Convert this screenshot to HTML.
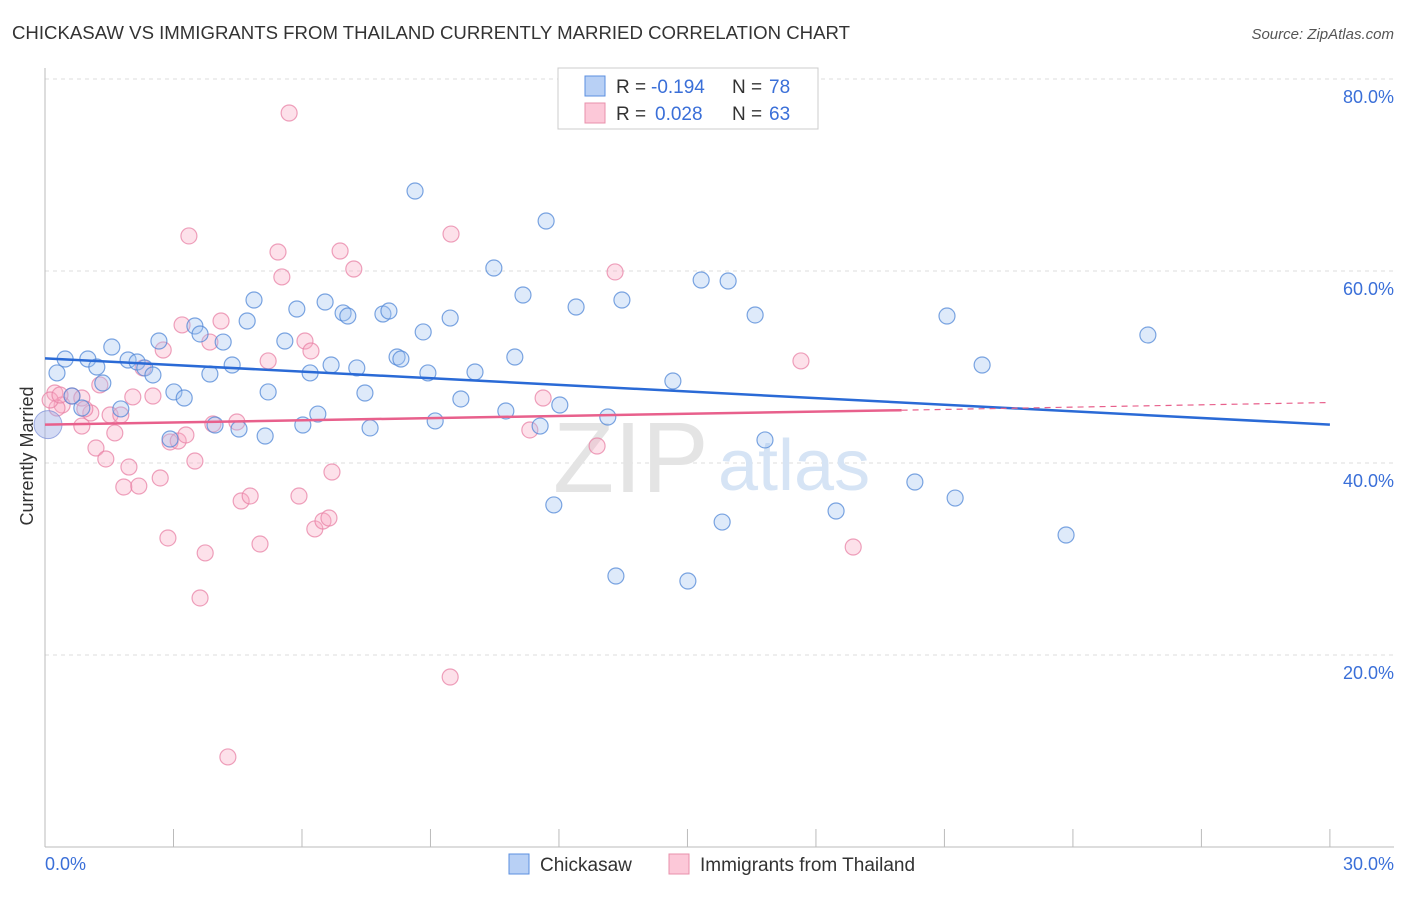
<!DOCTYPE html>
<html><head><meta charset="utf-8"><style>
body{margin:0;background:#fff;font-family:"Liberation Sans",sans-serif;}
svg text{font-family:"Liberation Sans",sans-serif;}
</style></head><body>
<svg id="chart" width="1406" height="892" viewBox="0 0 1406 892">
<text x="12" y="39" font-size="18" fill="#333" textLength="838" lengthAdjust="spacingAndGlyphs">CHICKASAW VS IMMIGRANTS FROM THAILAND CURRENTLY MARRIED CORRELATION CHART</text>
<text x="1394" y="39" font-size="15" fill="#555" font-style="italic" text-anchor="end">Source: ZipAtlas.com</text>
<g id="grid"></g>
<text x="553" y="492" font-size="100" fill="#e4e4e4" font-family="Liberation Serif">ZIP</text>
<text x="718" y="490" font-size="72" fill="#d6e4f5">atlas</text>
<g id="pts"></g>
<g id="lines"></g>
<text transform="translate(33,456) rotate(-90)" font-size="18" fill="#333" text-anchor="middle">Currently Married</text>
<text x="45" y="870" font-size="18" fill="#3a6fd8">0.0%</text>
<text x="1394" y="870" font-size="18" fill="#3a6fd8" text-anchor="end">30.0%</text>
<g>
<rect x="558" y="68" width="260" height="61" fill="#fff" stroke="#ccc"/>
<rect x="585" y="76" width="20" height="20" fill="#b8d0f5" stroke="#5b8fe0"/>
<rect x="585" y="103" width="20" height="20" fill="#fcc8d8" stroke="#e890ab"/>
<text x="616" y="93" font-size="19" fill="#333">R =</text>
<text x="651" y="93" font-size="19" fill="#3a6fd8">-0.194</text>
<text x="732" y="93" font-size="19" fill="#333">N =</text>
<text x="769" y="93" font-size="19" fill="#3a6fd8">78</text>
<text x="616" y="120" font-size="19" fill="#333">R =</text>
<text x="655" y="120" font-size="19" fill="#3a6fd8">0.028</text>
<text x="732" y="120" font-size="19" fill="#333">N =</text>
<text x="769" y="120" font-size="19" fill="#3a6fd8">63</text>
</g>
<g>
<rect x="509" y="854" width="20" height="20" fill="#b8d0f5" stroke="#5b8fe0"/>
<text x="540" y="871" font-size="19" fill="#333">Chickasaw</text>
<rect x="669" y="854" width="20" height="20" fill="#fcc8d8" stroke="#e890ab"/>
<text x="700" y="871" font-size="19" fill="#333">Immigrants from Thailand</text>
</g>
</svg>
<script>
const yTicks=[20,40,60,80];
const xTickCount=[0,3,6,9,12,15,18,21,24,27,30];
const bluePx=[[57,373],[65,359],[88,359],[97,367],[103,383],[112,347],[121,409],[128,360],[137,362],[145,368],[153,375],[159,341],[170,439],[174,392],[184,398],[195,326],[200,334],[210,374],[215,425],[223,342],[232,365],[239,429],[247,321],[254,300],[265,436],[268,392],[285,341],[297,309],[303,425],[310,373],[318,414],[325,302],[331,365],[343,313],[348,316],[357,368],[365,393],[370,428],[383,314],[389,311],[397,357],[401,359],[415,191],[423,332],[428,373],[435,421],[450,318],[461,399],[475,372],[494,268],[506,411],[515,357],[523,295],[540,426],[546,221],[554,505],[560,405],[576,307],[608,417],[616,576],[622,300],[673,381],[688,581],[701,280],[722,522],[728,281],[755,315],[765,440],[836,511],[915,482],[947,316],[955,498],[982,365],[1066,535],[1148,335],[82,408],[72,396]];
const pinkPx=[[289,113],[189,236],[451,234],[278,252],[340,251],[282,277],[354,269],[615,272],[182,325],[221,321],[163,350],[210,342],[305,341],[311,351],[268,361],[801,361],[55,393],[62,405],[72,396],[82,398],[91,413],[100,385],[110,415],[121,415],[133,397],[143,368],[153,396],[170,442],[178,441],[186,435],[213,424],[237,422],[96,448],[106,459],[115,433],[129,467],[124,487],[139,486],[160,478],[195,461],[241,501],[250,496],[299,496],[332,472],[315,529],[323,521],[329,518],[168,538],[205,553],[260,544],[200,598],[450,677],[228,757],[543,398],[530,430],[597,446],[853,547],[82,426],[57,408],[50,400],[60,395],[85,409]];
const blueX=bluePx.map(p=>+((p[0]-45)/42.83).toFixed(2)), blueY=bluePx.map(p=>+((847-p[1])/9.6).toFixed(2));
const pinkX=pinkPx.map(p=>+((p[0]-45)/42.83).toFixed(2)), pinkY=pinkPx.map(p=>+((847-p[1])/9.6).toFixed(2));
const blueTrend=[50.9,44.0]; const pinkTrend=[44.0,45.5,46.3];
const sx=v=>45+v*42.83, sy=v=>847-v*9.6;
const NS='http://www.w3.org/2000/svg';
function mk(t,a,parent){const e=document.createElementNS(NS,t);for(const k in a)e.setAttribute(k,a[k]);parent.appendChild(e);return e;}
const grid=document.getElementById('grid');
yTicks.forEach(v=>{
 const l=mk('line',{x1:45,x2:1394,y1:sy(v),y2:sy(v),stroke:'#ddd','stroke-dasharray':'4,4'},grid);
 
 
 const t=mk('text',{x:1394,y:sy(v)+24,'font-size':18,fill:'#3a6fd8','text-anchor':'end'},grid);t.textContent=v.toFixed(1)+'%';
 
 
});
mk('line',{x1:45,x2:45,y1:68,y2:847,stroke:'#bbb'},grid);
mk('line',{x1:45,x2:1394,y1:847,y2:847,stroke:'#bbb'},grid);
xTickCount.forEach(v=>{const l=mk('line',{x1:sx(v),x2:sx(v),y1:829,y2:847,stroke:'#bbb'},grid);
 
 });
const pts=document.getElementById('pts');
pinkX.forEach((x,i)=>{const c=mk('circle',{cx:sx(x),cy:sy(pinkY[i]),r:8,fill:'rgba(248,170,195,0.35)',stroke:'rgba(232,130,165,0.75)','stroke-width':1.2},pts);
 
 });
blueX.forEach((x,i)=>{const c=mk('circle',{cx:sx(x),cy:sy(blueY[i]),r:8,fill:'rgba(160,195,240,0.35)',stroke:'rgba(80,135,215,0.75)','stroke-width':1.2},pts);
 
 });
const big=mk('circle',{cx:sx(0.07),cy:sy(44),r:14,fill:'rgba(160,175,230,0.45)',stroke:'rgba(120,140,215,0.7)'},pts);


const lines=document.getElementById('lines');
const bl=mk('line',{x1:sx(0),y1:sy(blueTrend[0]),x2:sx(30),y2:sy(blueTrend[1]),stroke:'#2a6ad6','stroke-width':2.5},lines);


const pl=mk('line',{x1:sx(0),y1:sy(pinkTrend[0]),x2:sx(20),y2:sy(pinkTrend[1]),stroke:'#e8608c','stroke-width':2.5},lines);


const pd=mk('line',{x1:sx(20),y1:sy(pinkTrend[1]),x2:sx(30),y2:sy(pinkTrend[2]),stroke:'#e8608c','stroke-width':1.2,'stroke-dasharray':'6,5'},lines);


</script>
</body></html>
